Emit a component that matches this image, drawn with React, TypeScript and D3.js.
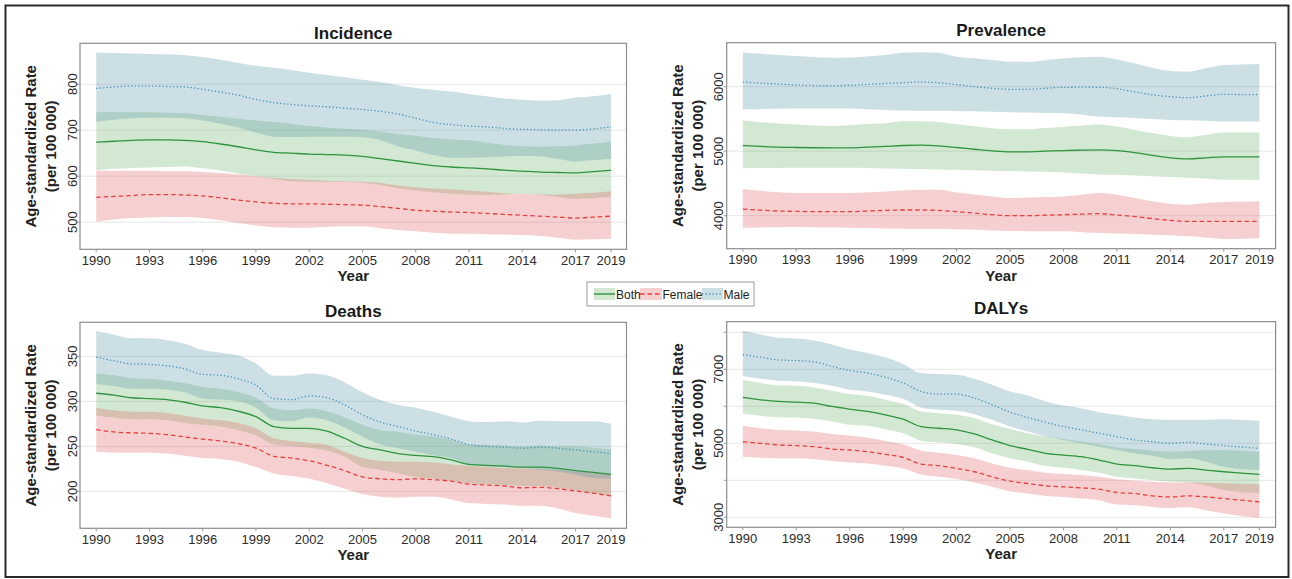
import * as d3 from "d3";

// ---- data (age-standardized rates per 100 000) ----
const YEARS = [
  1990, 1991, 1992, 1993, 1994, 1995, 1996, 1997, 1998, 1999,
  2000, 2001, 2002, 2003, 2004, 2005, 2006, 2007, 2008, 2009,
  2010, 2011, 2012, 2013, 2014, 2015, 2016, 2017, 2018, 2019,
];
const X_TICKS = [1990, 1993, 1996, 1999, 2002, 2005, 2008, 2011, 2014, 2017, 2019];

// Incidence
const incMaleUp = [869, 868, 867, 866, 865, 863, 859, 853, 846, 840, 836, 831, 825, 820, 815, 810, 805, 798, 792, 788, 784, 779, 774, 769, 766, 764, 765, 771, 774, 779];
const incMaleMean = [791, 794, 796, 796, 795, 794, 789, 783, 776, 767, 760, 756, 753, 751, 748, 745, 741, 735, 726, 717, 712, 709, 707, 704, 702, 701, 700, 700, 703, 707];
const incMaleLow = [718, 723, 726, 727, 727, 726, 721, 714, 706, 695, 686, 685, 686, 686, 686, 685, 678, 665, 656, 646, 640, 640, 641, 643, 644, 643, 638, 632, 635, 638];
const incBothUp = [739, 739, 739, 739, 738, 737, 733, 729, 725, 721, 718, 714, 709, 706, 703, 701, 697, 692, 688, 683, 680, 678, 673, 668, 665, 664, 665, 667, 671, 675];
const incBothMean = [674, 676, 678, 679, 679, 678, 675, 670, 664, 657, 652, 650, 648, 647, 646, 643, 638, 633, 628, 623, 620, 618, 616, 613, 611, 609, 608, 607, 610, 613];
const incBothLow = [613, 616, 618, 619, 620, 621, 617, 612, 606, 600, 594, 589, 588, 588, 588, 586, 581, 574, 569, 565, 562, 560, 559, 560, 561, 559, 555, 551, 552, 556];
const incFemUp = [612, 612, 612, 612, 611, 611, 609, 607, 604, 600, 596, 594, 592, 590, 589, 588, 585, 580, 576, 573, 571, 569, 566, 563, 561, 560, 560, 562, 564, 567];
const incFemMean = [554, 556, 558, 560, 560, 559, 557, 553, 548, 544, 541, 540, 540, 539, 538, 537, 534, 530, 526, 524, 522, 521, 519, 517, 515, 513, 511, 509, 511, 513];
const incFemLow = [501, 506, 509, 510, 511, 511, 509, 504, 498, 493, 489, 488, 488, 490, 491, 491, 487, 483, 480, 477, 475, 475, 474, 473, 472, 470, 466, 462, 463, 464];

// Prevalence
const prevMaleUp = [6531, 6510, 6490, 6474, 6460, 6448, 6454, 6468, 6490, 6526, 6535, 6526, 6464, 6440, 6412, 6387, 6385, 6410, 6438, 6455, 6464, 6423, 6361, 6294, 6242, 6232, 6284, 6335, 6345, 6351];
const prevMaleMean = [6072, 6055, 6040, 6026, 6018, 6015, 6021, 6035, 6050, 6062, 6072, 6062, 6031, 6000, 5975, 5959, 5959, 5975, 5990, 5992, 5990, 5969, 5918, 5875, 5845, 5830, 5856, 5881, 5878, 5876];
const prevMaleLow = [5649, 5652, 5656, 5660, 5660, 5660, 5660, 5652, 5640, 5629, 5626, 5625, 5624, 5618, 5610, 5603, 5598, 5593, 5588, 5570, 5536, 5526, 5515, 5500, 5485, 5478, 5470, 5459, 5459, 5459];
const prevBothUp = [5474, 5450, 5430, 5412, 5400, 5392, 5402, 5420, 5433, 5464, 5464, 5454, 5418, 5385, 5356, 5340, 5340, 5360, 5376, 5395, 5412, 5381, 5330, 5280, 5237, 5216, 5253, 5289, 5289, 5289];
const prevBothMean = [5088, 5075, 5063, 5057, 5053, 5052, 5052, 5062, 5075, 5088, 5093, 5082, 5057, 5030, 5005, 4990, 4990, 5000, 5010, 5016, 5021, 5010, 4979, 4935, 4897, 4881, 4897, 4912, 4912, 4912];
const prevBothLow = [4737, 4739, 4741, 4742, 4742, 4742, 4742, 4738, 4732, 4727, 4722, 4717, 4711, 4705, 4698, 4691, 4686, 4680, 4670, 4655, 4639, 4634, 4624, 4610, 4598, 4590, 4575, 4557, 4557, 4557];
const prevFemUp = [4412, 4385, 4365, 4351, 4350, 4351, 4351, 4362, 4376, 4392, 4402, 4402, 4361, 4330, 4299, 4273, 4280, 4289, 4299, 4325, 4351, 4325, 4273, 4222, 4186, 4170, 4196, 4211, 4216, 4222];
const prevFemMean = [4103, 4085, 4072, 4067, 4062, 4062, 4062, 4072, 4082, 4088, 4088, 4082, 4062, 4040, 4015, 4000, 4000, 4008, 4015, 4024, 4031, 4010, 3985, 3955, 3928, 3912, 3912, 3912, 3912, 3912];
const prevFemLow = [3814, 3818, 3822, 3825, 3820, 3816, 3814, 3808, 3803, 3799, 3795, 3792, 3789, 3780, 3770, 3763, 3760, 3759, 3758, 3745, 3732, 3722, 3715, 3706, 3696, 3680, 3660, 3639, 3644, 3649];

// Deaths
const dthMaleUp = [378, 374, 370, 370, 368, 364, 357, 354, 351, 342, 328.5, 328.5, 331, 329, 321, 310, 301.5, 296, 293, 288.5, 283, 278, 277, 278, 276.5, 278.5, 278, 278, 278, 275];
const dthMaleMean = [349, 345, 341.5, 341, 339.5, 336, 330, 329, 325, 318, 303, 302, 306, 304, 296, 285, 277, 272, 267, 263, 258, 252, 250, 249, 248, 249, 248, 246, 244, 242];
const dthMaleLow = [319, 317, 314, 314, 313, 310, 303, 302, 300, 293, 279, 278, 282, 279, 271, 261, 252, 248, 244, 240, 237, 230, 228, 227, 226, 224, 222, 218.5, 215, 214];
const dthBothUp = [331, 329, 326, 325, 323, 320, 316, 314, 310, 304, 292, 290, 292, 289, 282, 274, 268, 266, 263, 261, 257, 252, 251.5, 251, 250, 251, 250, 250, 248.5, 247];
const dthBothMean = [309, 307, 304, 303, 302, 299, 295, 293, 289, 283, 272, 270, 270, 267, 259, 250, 246, 242, 240, 238.5, 235, 230, 229, 228, 227, 227, 225.5, 223, 221, 219];
const dthBothLow = [284, 282, 280, 280, 279, 276, 274, 272, 268, 262, 252, 250, 248.5, 245, 238.5, 227, 224, 220, 216, 214, 211.5, 209, 208, 207, 206, 206, 204, 201.5, 198, 195];
const dthFemUp = [293, 290, 288.5, 288.5, 287, 284, 281, 279, 276, 270, 259, 256, 254, 251.5, 244, 237, 234, 233, 233, 232, 230, 228.5, 227, 226, 225.5, 225, 224, 222, 221, 220];
const dthFemMean = [268.5, 266, 265, 264.5, 263, 260.5, 258, 256, 253, 248, 239, 237, 234, 229, 223, 216, 214, 213, 214, 213, 211.5, 208, 207, 206, 204, 204.5, 203, 200.5, 198, 195];
const dthFemLow = [244, 243, 243, 243, 242, 239.5, 237, 236, 233, 227, 220, 217, 214, 209, 203, 197, 194, 193, 194, 194, 191, 187, 186, 185.5, 184, 184, 181, 176, 173, 170];

// DALYs
const dalyMaleUp = [8050, 7941, 7851, 7833, 7778, 7670, 7534, 7443, 7326, 7145, 6900, 6873, 6855, 6747, 6584, 6403, 6294, 6131, 6023, 5950, 5842, 5769, 5697, 5652, 5633, 5633, 5633, 5652, 5633, 5606];
const dalyMaleMean = [7398, 7326, 7253, 7235, 7199, 7081, 6964, 6900, 6783, 6629, 6403, 6330, 6330, 6222, 6041, 5842, 5697, 5570, 5452, 5362, 5271, 5181, 5090, 5045, 5000, 5027, 4982, 4937, 4900, 4864];
const dalyMaleLow = [6810, 6747, 6692, 6674, 6629, 6557, 6448, 6403, 6312, 6204, 5968, 5905, 5878, 5787, 5633, 5452, 5317, 5181, 5090, 5000, 4910, 4819, 4729, 4665, 4575, 4593, 4502, 4367, 4303, 4276];
const dalyBothUp = [6710, 6629, 6566, 6557, 6511, 6421, 6330, 6285, 6176, 6059, 5860, 5814, 5769, 5679, 5516, 5389, 5271, 5181, 5118, 5045, 4973, 4891, 4846, 4801, 4774, 4792, 4810, 4819, 4801, 4774];
const dalyBothMean = [6240, 6176, 6131, 6113, 6086, 5995, 5923, 5860, 5769, 5652, 5452, 5407, 5362, 5253, 5090, 4937, 4837, 4729, 4683, 4638, 4548, 4439, 4394, 4339, 4303, 4321, 4276, 4231, 4195, 4158];
const dalyBothLow = [5796, 5742, 5706, 5697, 5661, 5588, 5498, 5471, 5380, 5271, 5072, 5027, 4982, 4891, 4729, 4593, 4502, 4385, 4339, 4276, 4204, 4095, 4050, 4005, 3959, 3940, 3860, 3740, 3680, 3661];
const dalyFemUp = [5471, 5407, 5362, 5344, 5317, 5253, 5208, 5154, 5063, 4973, 4801, 4747, 4683, 4593, 4457, 4339, 4276, 4204, 4167, 4140, 4095, 4030, 3990, 3960, 3940, 3950, 3935, 3920, 3905, 3896];
const dalyFemMean = [5045, 5000, 4955, 4937, 4910, 4846, 4819, 4774, 4702, 4620, 4439, 4394, 4321, 4231, 4095, 3977, 3914, 3851, 3824, 3796, 3760, 3670, 3643, 3579, 3552, 3579, 3552, 3507, 3462, 3416];
const dalyFemLow = [4638, 4611, 4593, 4593, 4566, 4520, 4484, 4457, 4394, 4321, 4158, 4095, 4032, 3941, 3824, 3706, 3643, 3579, 3552, 3507, 3462, 3344, 3326, 3281, 3253, 3271, 3190, 3100, 3036, 2982];

// ---- styling ----
const FONT = "'Liberation Sans', Arial, Helvetica, sans-serif";
const BAND_OPACITY = 0.3;

type SexKey = "both" | "female" | "male";
const SEXES: SexKey[] = ["both", "female", "male"];
const SEX_STYLE: Record<SexKey, { label: string; fill: string; stroke: string; dash: string | undefined }> = {
  both: { label: "Both", fill: "#6cb269", stroke: "#2e9440", dash: undefined },
  female: { label: "Female", fill: "#e16266", stroke: "#e5403d", dash: "4.5 3" },
  male: { label: "Male", fill: "#5594a8", stroke: "#4a93b5", dash: "1.3 2.2" },
};

interface Band {
  lo: number[];
  mid: number[];
  hi: number[];
}

interface PanelSpec {
  title: string;
  titleY: number;
  left: number;
  right: number;
  top: number;
  bottom: number;
  x1990: number;
  x2019: number;
  yDomain: [number, number];
  grid: number[];
  yLabels: number[];
  series: Record<SexKey, Band>;
}

const PANELS: PanelSpec[] = [
  {
    title: "Incidence", titleY: 39,
    left: 80, right: 626.5, top: 43.3, bottom: 249.3, x1990: 96.2, x2019: 611,
    yDomain: [441, 889], grid: [500, 600, 700, 800], yLabels: [500, 600, 700, 800],
    series: {
      both: { lo: incBothLow, mid: incBothMean, hi: incBothUp },
      female: { lo: incFemLow, mid: incFemMean, hi: incFemUp },
      male: { lo: incMaleLow, mid: incMaleMean, hi: incMaleUp },
    },
  },
  {
    title: "Prevalence", titleY: 36,
    left: 726.7, right: 1275.6, top: 42.7, bottom: 248.7, x1990: 742.8, x2019: 1259.4,
    yDomain: [3488, 6682], grid: [4000, 5000, 6000], yLabels: [4000, 5000, 6000],
    series: {
      both: { lo: prevBothLow, mid: prevBothMean, hi: prevBothUp },
      female: { lo: prevFemLow, mid: prevFemMean, hi: prevFemUp },
      male: { lo: prevMaleLow, mid: prevMaleMean, hi: prevMaleUp },
    },
  },
  {
    title: "Deaths", titleY: 317.3,
    left: 80, right: 626.5, top: 322.3, bottom: 528.3, x1990: 96.2, x2019: 611,
    yDomain: [159, 387.8], grid: [200, 250, 300, 350], yLabels: [200, 250, 300, 350],
    series: {
      both: { lo: dthBothLow, mid: dthBothMean, hi: dthBothUp },
      female: { lo: dthFemLow, mid: dthFemMean, hi: dthFemUp },
      male: { lo: dthMaleLow, mid: dthMaleMean, hi: dthMaleUp },
    },
  },
  {
    title: "DALYs", titleY: 314.3,
    left: 726.7, right: 1275.6, top: 321.7, bottom: 527.3, x1990: 742.8, x2019: 1259.4,
    yDomain: [2730, 8286], grid: [3000, 4000, 5000, 6000, 7000, 8000], yLabels: [3000, 5000, 7000],
    series: {
      both: { lo: dalyBothLow, mid: dalyBothMean, hi: dalyBothUp },
      female: { lo: dalyFemLow, mid: dalyFemMean, hi: dalyFemUp },
      male: { lo: dalyMaleLow, mid: dalyMaleMean, hi: dalyMaleUp },
    },
  },
];

function Panel({ p }: { p: PanelSpec }) {
  const x = d3.scaleLinear().domain([1990, 2019]).range([p.x1990, p.x2019]);
  const y = d3.scaleLinear().domain(p.yDomain).range([p.bottom, p.top]);
  const cx = (p.left + p.right) / 2;
  const cy = (p.top + p.bottom) / 2;

  const area = (b: Band) =>
    d3
      .area<number>()
      .x((yr) => x(yr))
      .y0((_, i) => y(b.lo[i]))
      .y1((_, i) => y(b.hi[i]))
      .curve(d3.curveMonotoneX)(YEARS) ?? "";

  const line = (vals: number[]) =>
    d3
      .line<number>()
      .x((yr) => x(yr))
      .y((_, i) => y(vals[i]))
      .curve(d3.curveMonotoneX)(YEARS) ?? "";

  return (
    <g>
      {/* grid */}
      {p.grid.map((v) => (
        <line key={v} x1={p.left} x2={p.right} y1={y(v)} y2={y(v)} stroke="#e6e6e6" strokeWidth={1} />
      ))}

      {/* uncertainty bands */}
      {SEXES.map((s) => (
        <path key={s} d={area(p.series[s])} fill={SEX_STYLE[s].fill} fillOpacity={BAND_OPACITY} />
      ))}

      {/* mean lines */}
      {SEXES.map((s) => (
        <path
          key={s}
          d={line(p.series[s].mid)}
          fill="none"
          stroke={SEX_STYLE[s].stroke}
          strokeWidth={1.3}
          strokeDasharray={SEX_STYLE[s].dash}
        />
      ))}

      {/* frame */}
      <rect
        x={p.left}
        y={p.top}
        width={p.right - p.left}
        height={p.bottom - p.top}
        fill="none"
        stroke="#8c8c8c"
        strokeWidth={1.2}
      />

      {/* x axis */}
      {X_TICKS.map((t) => (
        <g key={t}>
          <line x1={x(t)} x2={x(t)} y1={p.bottom} y2={p.bottom + 3} stroke="#9a9a9a" strokeWidth={1} />
          <text x={x(t)} y={p.bottom + 15.7} textAnchor="middle" fontSize={13} fill="#2b2b2b" fontFamily={FONT}>
            {t}
          </text>
        </g>
      ))}
      <text x={cx} y={p.bottom + 31.8} textAnchor="middle" fontSize={15} fontWeight="bold" fill="#222" fontFamily={FONT}>
        Year
      </text>

      {/* y axis */}
      {p.grid.map((v) => (
        <line key={v} x1={p.left - 3} x2={p.left} y1={y(v)} y2={y(v)} stroke="#9a9a9a" strokeWidth={1} />
      ))}
      {p.yLabels.map((v) => (
        <text
          key={v}
          transform={`translate(${p.left - 3.5},${y(v)}) rotate(-90)`}
          textAnchor="middle"
          fontSize={13}
          fill="#2b2b2b"
          fontFamily={FONT}
        >
          {v}
        </text>
      ))}
      <text
        transform={`translate(${p.left - 44},${cy}) rotate(-90)`}
        textAnchor="middle"
        fontSize={15}
        fontWeight="bold"
        fill="#222"
        fontFamily={FONT}
      >
        Age-standardized Rate
      </text>
      <text
        transform={`translate(${p.left - 24},${cy}) rotate(-90)`}
        textAnchor="middle"
        fontSize={15}
        fontWeight="bold"
        fill="#222"
        fontFamily={FONT}
      >
        (per 100 000)
      </text>

      {/* title */}
      <text x={cx} y={p.titleY} textAnchor="middle" fontSize={17} fontWeight="bold" fill="#1a1a1a" fontFamily={FONT}>
        {p.title}
      </text>
    </g>
  );
}

const LEGEND_ITEMS: { key: SexKey; sx: number; sw: number; tx: number }[] = [
  { key: "both", sx: 7, sw: 21, tx: 29 },
  { key: "female", sx: 53, sw: 22, tx: 75.5 },
  { key: "male", sx: 115, sw: 21, tx: 136.5 },
];

function Legend() {
  return (
    <g transform="translate(587,282)">
      <rect x={0} y={0} width={167} height={24} fill="#fff" stroke="#9a9a9a" strokeWidth={1} />
      {LEGEND_ITEMS.map((it) => {
        const st = SEX_STYLE[it.key];
        return (
          <g key={it.key}>
            <rect x={it.sx} y={6} width={it.sw} height={12} fill={st.fill} fillOpacity={BAND_OPACITY} />
            <line
              x1={it.sx}
              x2={it.sx + it.sw}
              y1={12}
              y2={12}
              stroke={st.stroke}
              strokeWidth={1.4}
              strokeDasharray={st.dash}
            />
            <text x={it.tx} y={16.5} fontSize={12} fill="#222" fontFamily={FONT}>
              {st.label}
            </text>
          </g>
        );
      })}
    </g>
  );
}

export default function App() {
  return (
    <svg
      width={1292}
      height={579}
      style={{ position: "absolute", left: 0, top: 0, background: "#fff" }}
    >
      <rect x={0} y={0} width={1292} height={579} fill="#fff" />
      <rect x={5.5} y={5.5} width={1283} height={571.5} fill="none" stroke="#2a2a2a" strokeWidth={2} />
      {PANELS.map((p) => (
        <Panel key={p.title} p={p} />
      ))}
      <Legend />
    </svg>
  );
}
